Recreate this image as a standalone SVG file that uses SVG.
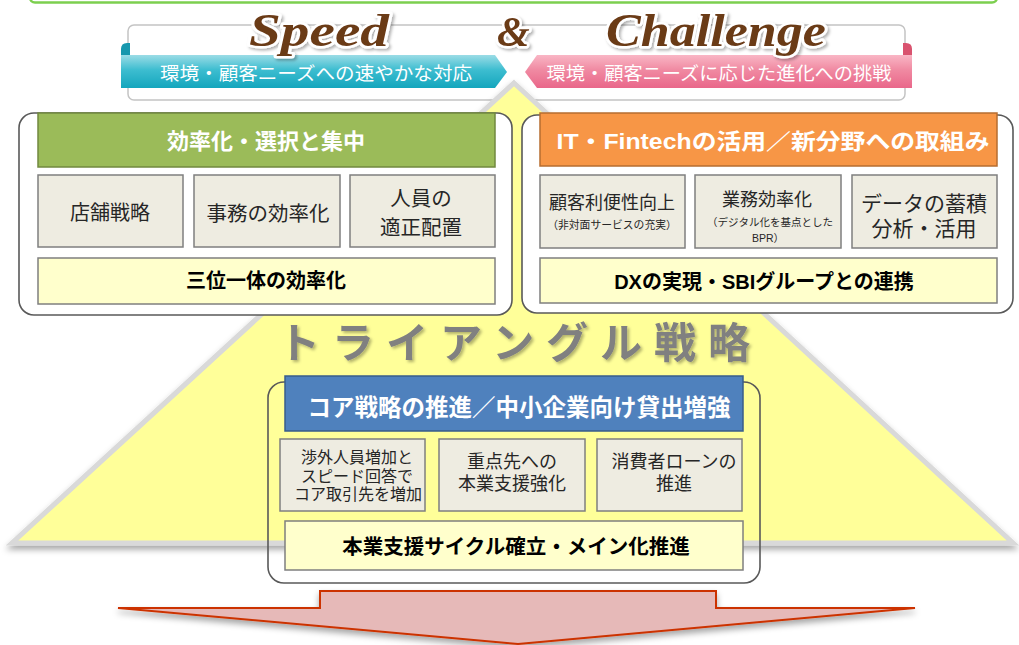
<svg xmlns="http://www.w3.org/2000/svg" width="1019" height="645" viewBox="0 0 1019 645">
<defs>
<linearGradient id="teal" x1="0" y1="0" x2="0" y2="1">
<stop offset="0" stop-color="#9bdce6"/><stop offset="0.45" stop-color="#3dbdd0"/><stop offset="1" stop-color="#14a6bd"/>
</linearGradient>
<linearGradient id="pink" x1="0" y1="0" x2="0" y2="1">
<stop offset="0" stop-color="#f9b6c5"/><stop offset="0.45" stop-color="#f08aa2"/><stop offset="1" stop-color="#e9678a"/>
</linearGradient>
<filter id="sh" x="-10%" y="-10%" width="120%" height="130%">
<feDropShadow dx="0" dy="4" stdDeviation="3" flood-color="#000" flood-opacity="0.35"/>
</filter>
<filter id="tsh" x="-10%" y="-20%" width="120%" height="150%">
<feDropShadow dx="2" dy="2" stdDeviation="1.5" flood-color="#000" flood-opacity="0.3"/>
</filter>
<style>
.jp{font-family:'Liberation Sans','Noto Sans CJK JP',sans-serif;text-anchor:middle;dominant-baseline:central}
.wb{fill:#fff;font-weight:bold}
.bk{fill:#000;font-weight:bold}
.nm{fill:#262626}
.frame{fill:#fff;stroke:#595959;stroke-width:1.6}
.sub{fill:#eeece1;stroke:#7f7f7f;stroke-width:1.5}
.foot{fill:#ffffcc;stroke:#7f7f7f;stroke-width:1.5}
.title{font-family:'Liberation Serif',serif;font-weight:bold;font-style:italic;fill:#6b3a17;stroke:#fff;stroke-width:5;paint-order:stroke;stroke-linejoin:round}
</style>
</defs>

<!-- top green box remnant -->
<rect x="30" y="-20" width="967" height="22.5" rx="5" fill="#fff" stroke="#7ccf4f" stroke-width="2.5"/>

<!-- banner frame -->
<rect x="128" y="25" width="777" height="75" rx="6" fill="#fff" stroke="#c4c4c4" stroke-width="1.5"/>

<!-- triangle -->
<polygon points="514,83 1013,543 12,543" fill="#ffff99" stroke="#d9d9d9" stroke-width="5" stroke-linejoin="miter" filter="url(#sh)"/>

<!-- ribbons -->
<g id="speed-ribbon">
<path d="M121,56 L121,49 Q121,43 127,43 L130,43 L130,56 Z" fill="#1797ad"/>
<polygon points="121,55 495,55 507,72 495,88 121,88" fill="url(#teal)"/>
<text class="jp" x="316" y="73" font-size="18.5" fill="#fff" textLength="312" lengthAdjust="spacingAndGlyphs">環境・顧客ニーズへの速やかな対応</text>
</g>
<g id="challenge-ribbon">
<path d="M912,56 L912,49 Q912,43 906,43 L903,43 L903,56 Z" fill="#d9536f"/>
<polygon points="912,55 537,55 525,72 537,88 912,88" fill="url(#pink)"/>
<text class="jp" x="719" y="73" font-size="18.5" fill="#fff" textLength="345" lengthAdjust="spacingAndGlyphs">環境・顧客ニーズに応じた進化への挑戦</text>
</g>

<g id="titles" filter="url(#tsh)">
<text class="title" x="249" y="46" font-size="46" textLength="140" lengthAdjust="spacingAndGlyphs">Speed</text>
<text class="title" x="497" y="46" font-size="42">&amp;</text>
<text class="title" x="606" y="46" font-size="46" textLength="220" lengthAdjust="spacingAndGlyphs">Challenge</text>
</g>

<!-- left group -->
<g id="efficiency">
<rect class="frame" x="19" y="113" width="493" height="202" rx="15"/>
<rect x="38" y="113" width="457" height="54" fill="#9bbb59" stroke="#71893f" stroke-width="1.5"/>
<text class="jp wb" x="266" y="141" font-size="22">効率化・選択と集中</text>
<rect class="sub" x="38" y="175" width="145" height="72"/>
<text class="jp nm" x="110" y="213" font-size="20">店舗戦略</text>
<rect class="sub" x="194" y="175" width="146" height="72"/>
<text class="jp nm" x="268" y="213" font-size="20.5">事務の効率化</text>
<rect class="sub" x="350" y="175" width="145" height="72"/>
<text class="jp nm" x="421" y="198" font-size="20.5">人員の</text>
<text class="jp nm" x="421" y="227" font-size="20.5">適正配置</text>
<rect class="foot" x="38" y="258" width="457" height="46"/>
<text class="jp bk" x="266" y="281" font-size="20">三位一体の効率化</text>
</g>

<!-- right group -->
<g id="fintech">
<rect class="frame" x="522" y="115" width="491" height="198" rx="15"/>
<rect x="540" y="113" width="457" height="53" fill="#f79646" stroke="#b66d31" stroke-width="1.5"/>
<text class="jp wb" x="773" y="141" font-size="22" textLength="433" lengthAdjust="spacingAndGlyphs">IT・Fintechの活用／新分野への取組み</text>
<rect class="sub" x="540" y="175" width="145" height="73"/>
<text class="jp nm" x="612" y="203" font-size="18">顧客利便性向上</text>
<text class="jp nm" x="612" y="225" font-size="10.8">（非対面サービスの充実）</text>
<rect class="sub" x="695" y="175" width="146" height="73"/>
<text class="jp nm" x="767" y="200" font-size="18">業務効率化</text>
<text class="jp nm" x="770" y="222" font-size="10.5">（デジタル化を基点とした</text>
<text class="jp nm" x="768" y="238" font-size="10.5">BPR）</text>
<rect class="sub" x="852" y="175" width="145" height="73"/>
<text class="jp nm" x="924" y="203" font-size="21">データの蓄積</text>
<text class="jp nm" x="924" y="228" font-size="21">分析・活用</text>
<rect class="foot" x="540" y="258" width="457" height="45"/>
<text class="jp bk" x="764" y="282" font-size="20">DXの実現・SBIグループとの連携</text>
</g>

<!-- big title -->
<text id="triangle-title" class="jp" x="514" y="343" font-size="42" font-weight="bold" fill="#808080" textLength="472" lengthAdjust="spacing" filter="url(#tsh)">トライアングル戦略</text>

<!-- core group -->
<g id="core">
<rect x="268" y="382" width="492" height="201" rx="16" fill="none" stroke="#595959" stroke-width="1.6"/>
<rect x="285" y="376" width="458" height="55" fill="#4f81bd" stroke="#385d8a" stroke-width="1.5"/>
<text class="jp wb" x="519" y="408" font-size="23.5">コア戦略の推進／中小企業向け貸出増強</text>
<rect class="sub" x="280" y="439" width="145" height="72"/>
<text class="jp nm" x="357" y="457" font-size="16">渉外人員増加と</text>
<text class="jp nm" x="357" y="476" font-size="16">スピード回答で</text>
<text class="jp nm" x="358" y="494" font-size="16">コア取引先を増加</text>
<rect class="sub" x="439" y="439" width="146" height="72"/>
<text class="jp nm" x="512" y="462" font-size="18">重点先への</text>
<text class="jp nm" x="512" y="484" font-size="18">本業支援強化</text>
<rect class="sub" x="597" y="439" width="145" height="72"/>
<text class="jp nm" x="674" y="462" font-size="18">消費者ローンの</text>
<text class="jp nm" x="674" y="484" font-size="18">推進</text>
<rect class="foot" x="285" y="521" width="458" height="49"/>
<text class="jp bk" x="516" y="546" font-size="20.5">本業支援サイクル確立・メイン化推進</text>
</g>

<!-- arrow -->
<g id="connectors">
<polygon points="320,591 716,591 716,608 915,608 518,644 118,608 320,608" fill="#e6b9b8" stroke="#cc3300" stroke-width="2" stroke-linejoin="miter" filter="url(#sh)"/>
</g>
</svg>
